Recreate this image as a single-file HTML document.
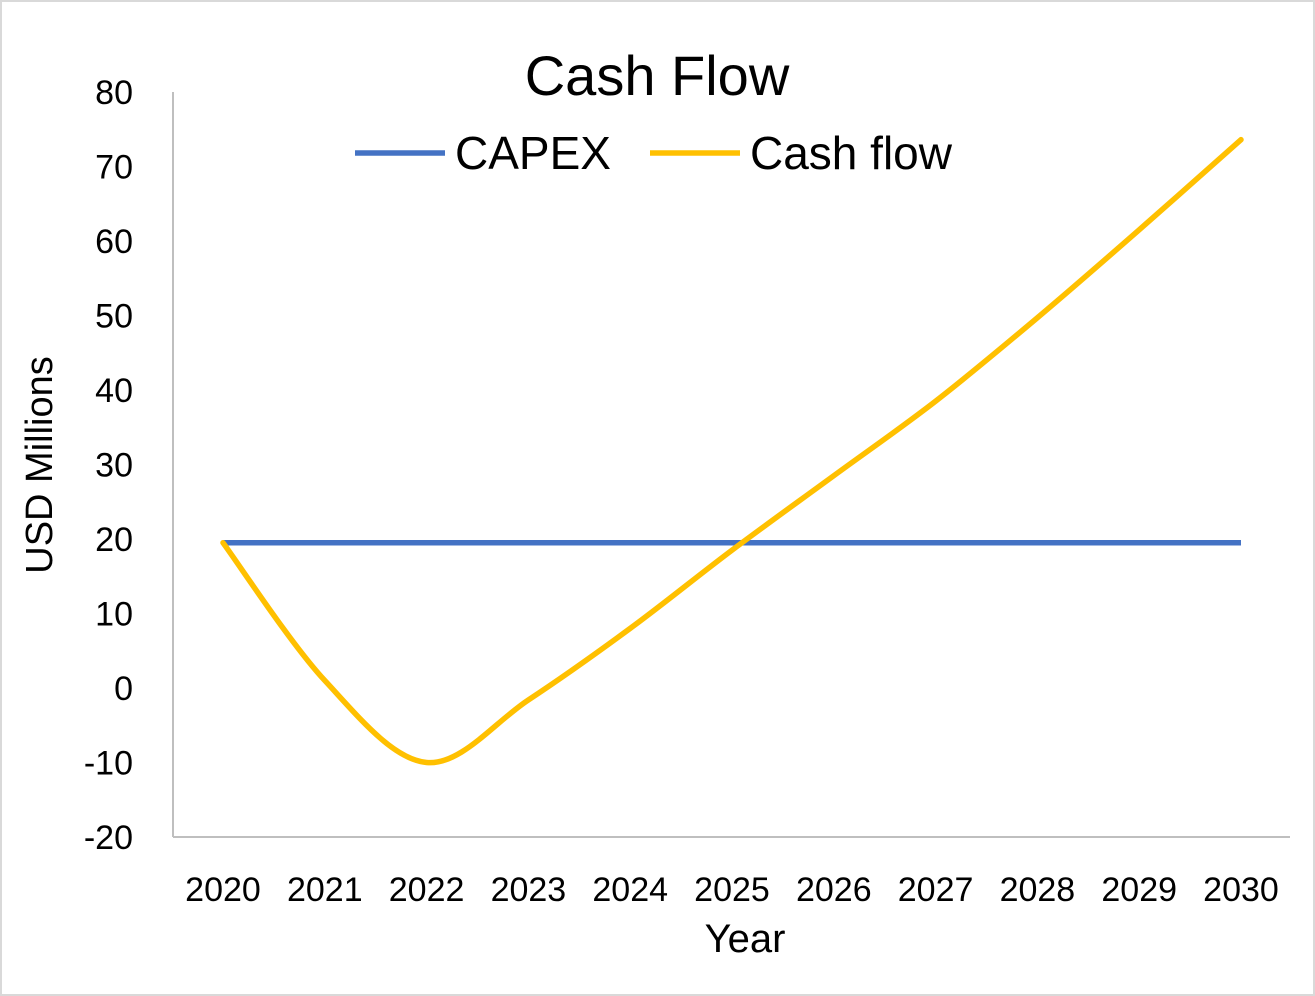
<!DOCTYPE html>
<html><head><meta charset="utf-8"><style>
body{margin:0;background:#fff}
svg{display:block;font-family:"Liberation Sans",sans-serif}
</style></head><body>
<svg width="1315" height="996" viewBox="0 0 1315 996">
<rect x="1" y="1" width="1313" height="994" fill="#fff" stroke="#d9d9d9" stroke-width="2"/>
<text x="657" y="95" text-anchor="middle" font-size="56" fill="#000">Cash Flow</text>
<g>
<line x1="355" y1="153" x2="445" y2="153" stroke="#4472C4" stroke-width="5.5"/>
<text x="455" y="169" font-size="46">CAPEX</text>
<line x1="650" y1="153" x2="740" y2="153" stroke="#FFC000" stroke-width="5.5"/>
<text x="750" y="169" font-size="46">Cash flow</text>
</g>
<g id="axes"></g>
<g id="series"></g>
<text transform="translate(52,465) rotate(-90)" text-anchor="middle" font-size="38">USD Millions</text>
<text x="745" y="952" text-anchor="middle" font-size="40">Year</text>
</svg>
<script>
const years=[2020,2021,2022,2023,2024,2025,2026,2027,2028,2029,2030];
const capex=[19.5,19.5,19.5,19.5,19.5,19.5,19.5,19.5,19.5,19.5,19.5];
const cashflow=[19.5,1,-10,-1.6,8,18.5,28.5,38.5,49.7,61.5,73.6];
const yTicks=[-20,-10,0,10,20,30,40,50,60,70,80];
const NS="http://www.w3.org/2000/svg";
const xs=i=>223+i*(1241-223)/(years.length-1);
const ys=v=>837-(v+20)*(837-92)/100;
const axes=document.getElementById('axes'),ser=document.getElementById('series');
function mk(t,a,p){const e=document.createElementNS(NS,t);for(const k in a)e.setAttribute(k,a[k]);p.appendChild(e);return e;}
const ya=mk('line',{x1:173,y1:92,x2:173,y2:837,stroke:'#bfbfbf','stroke-width':2},axes);


const xa=mk('line',{x1:173,y1:837,x2:1290,y2:837,stroke:'#bfbfbf','stroke-width':2},axes);


yTicks.forEach(v=>{const t=mk('text',{x:133,y:ys(v)+12,'text-anchor':'end','font-size':34},axes);t.textContent=v;

});
years.forEach((y,i)=>{const t=mk('text',{x:xs(i),y:901,'text-anchor':'middle','font-size':34},axes);t.textContent=y;

});
function smooth(vals){const p=vals.map((v,i)=>[xs(i),ys(v)]);let d='M'+p[0];
for(let i=0;i<p.length-1;i++){const p0=p[i-1]||p[i],p1=p[i],p2=p[i+1],p3=p[i+2]||p2;
const c1=[p1[0]+(p2[0]-p0[0])/6,p1[1]+(p2[1]-p0[1])/6],c2=[p2[0]-(p3[0]-p1[0])/6,p2[1]-(p3[1]-p1[1])/6];
d+=' C'+c1+' '+c2+' '+p2;}return d;}
const l1=mk('path',{d:smooth(capex),fill:'none',stroke:'#4472C4','stroke-width':5.5},ser);


const l2=mk('path',{d:smooth(cashflow),fill:'none',stroke:'#FFC000','stroke-width':5.5,'stroke-linecap':'round'},ser);


</script>
</body></html>
